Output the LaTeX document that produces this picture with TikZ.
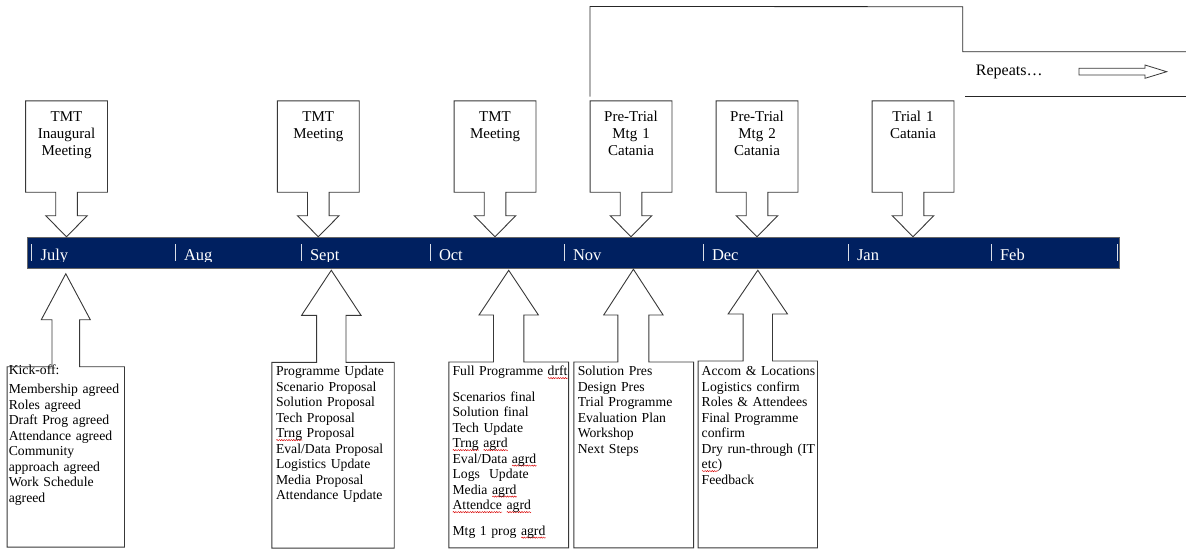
\documentclass[tikz,border=0pt]{standalone}
\usepackage{fontspec}
\setmainfont{Liberation Serif}
\usetikzlibrary{calc,decorations.pathmorphing}
\definecolor{barblue}{RGB}{0,32,96}

% red wavy underline under a word
\newlength\spellw
\newcommand\spell[1]{\settowidth\spellw{#1}\leavevmode\rlap{\smash{\tikz[baseline=0pt]\draw[red!85!black,line width=0.45pt,decorate,decoration={snake,amplitude=0.6pt,segment length=2.4pt}] (0pt,-2.6pt) -- (\spellw,-2.6pt);}}#1}

% box with a downward arrow onto the time bar
\newcommand\topcallout[3]{%
  \node[callbox,minimum width=81.5pt,minimum height=91pt] (#1) at (#2,146.5) {};
  \draw[outline] (#1.north west) -- (#1.north east) -- (#1.south east)
    -- ($(#1.south)+(10.8,0)$) -- ($(#1.south)+(10.8,23.5)$) -- ($(#1.south)+(20.8,23.5)$)
    -- (#1.south |- bar.north)
    -- ($(#1.south)+(-20.8,23.5)$) -- ($(#1.south)+(-10.8,23.5)$) -- ($(#1.south)+(-10.8,0)$)
    -- (#1.south west) -- cycle;
  \node[toptext] (#1text) at ($(#1.north)+(0,20.7)$) {#3};
}

% box with an upward arrow pointing at the time bar
% name, centre x, top y, width, height, arrow offset, stem half width, head half width, gap below bar
\newcommand\botcallout[9]{%
  \node[callbox,minimum width=#4pt,minimum height=#5pt,anchor=north] (#1) at (#2,#3) {};
  \coordinate (#1tip) at ($(#1.north)+(#6,0)$);
  \draw[outline] (#1.north west) -- ($(#1tip)+(-#7,0)$) -- ($(#1tip)+(-#7,-47)$) -- ($(#1tip)+(-#8,-47)$)
    -- ($(#1tip |- bar.south)+(0,#9)$)
    -- ($(#1tip)+(#8,-47)$) -- ($(#1tip)+(#7,-47)$) -- ($(#1tip)+(#7,0)$)
    -- (#1.north east) -- (#1.south east) -- (#1.south west) -- cycle;
}

\begin{document}
\begin{tikzpicture}[x=1pt,y=-1pt,
  outline/.style={draw=black!78,line width=0.9pt,fill=white,line join=miter},
  callbox/.style={draw=none,inner sep=0,rectangle},
  toptext/.style={font=\fontsize{15}{17}\selectfont,text width=78pt,align=center,anchor=base,inner sep=0},
  bottext/.style={font=\fontsize{13.7}{15.5}\selectfont,text width=118pt,align=left,anchor=base west,inner sep=0},
  month/.style={font=\fontsize{16.5}{18}\selectfont,text=white,anchor=base west,inner sep=0},
  monthtick/.style={draw=white!85!barblue,line width=0.9pt},
  rule/.style={draw=black!85,line width=0.8pt}]

\useasboundingbox (0,0) rectangle (1186,549);

% time bar with month ticks and names
\node[fill=barblue,draw=black!60,line width=0.5pt,minimum width=1092.5pt,minimum height=31pt,inner sep=0] (bar) at (573,252.5) {};
\begin{scope}
  \clip (bar.north west) rectangle ($(bar.east)+(0,9)$);
  \foreach \x/\m [count=\i] in {31.7/July,175/Aug,301/Sept,430/Oct,564/Nov,703/Dec,848/Jan,991/Feb}{
    \draw[monthtick] (\x,244) -- (\x,261);
    \node[month] (mon\i) at (\x+8.8,260.2) {\m};
  }
  \draw[monthtick] (1117.3,244) -- (1117.3,261);
\end{scope}

% meetings above the bar
\topcallout{top1}{66.5}{TMT\\Inaugural\\Meeting}
\topcallout{top2}{318.3}{TMT\\Meeting}
\topcallout{top3}{495}{TMT\\Meeting}
\topcallout{top4}{631}{Pre-Trial\\Mtg 1\\Catania}
\topcallout{top5}{757}{Pre-Trial\\Mtg 2\\Catania}
\topcallout{top6}{913}{Trial 1\\Catania}

% agenda boxes below the bar
\botcallout{low1}{65.8}{366.7}{117}{180}{0}{13.8}{24.5}{5.5}
\botcallout{low2}{333}{362.3}{122}{185.4}{-1.7}{14.7}{29.7}{2}
\botcallout{low3}{508.7}{362}{119.3}{185.5}{0}{15.2}{29.7}{2}
\botcallout{low4}{633.7}{362}{119.3}{185.5}{-0.3}{15.5}{29.7}{1}
\botcallout{low5}{757.8}{361}{119}{186.5}{0}{14.7}{29.7}{2}

\node[bottext] (low1text) at ($(low1.north west)+(1.5,8.1)$)
  {Kick-off:\\[3.5pt]Membership agreed\\Roles agreed\\Draft Prog agreed\\Attendance agreed\\Community\\approach agreed\\Work Schedule\\agreed};
\node[bottext] (low2text) at ($(low2.north west)+(4,13.2)$)
  {Programme Update\\Scenario Proposal\\Solution Proposal\\Tech Proposal\\\spell{Trng} Proposal\\Eval/Data Proposal\\Logistics Update\\Media Proposal\\Attendance Update};
\node[bottext] (low3text) at ($(low3.north west)+(3.5,13.5)$)
  {Full Programme \spell{drft}\\[10pt]Scenarios final\\Solution final\\Tech Update\\\spell{Trng} \spell{agrd}\\Eval/Data \spell{agrd}\\Logs~ Update\\Media \spell{agrd}\\\spell{Attendce} \spell{agrd}\\[10pt]Mtg 1 prog \spell{agrd}};
\node[bottext] (low4text) at ($(low4.north west)+(3.7,13.5)$)
  {Solution Pres\\Design Pres\\Trial Programme\\Evaluation Plan\\Workshop\\Next Steps};
\node[bottext] (low5text) at ($(low5.north west)+(3.4,14.5)$)
  {Accom \& Locations\\Logistics confirm\\Roles \& Attendees\\Final Programme\\confirm\\Dry run-through (IT\\\spell{etc})\\Feedback};

% bracket over the trial period and the repeat note
\draw[rule] ([yshift=4.3pt]top4.north west) -- ++(0,-90) -- (962.7,6.7) -- (962.7,51.7) -- (1186,51.7);
\draw[rule] (965,96) -- (1186,96);
\node[font=\fontsize{16}{18}\selectfont,anchor=base west,inner sep=0] (repeats) at (975.7,75.3) {Repeats…};
\draw[outline,line width=0.8pt] (1079,68.3) -- (1145,68.3) -- (1145,65) -- (1166.7,71.7) -- (1145,78.3) -- (1145,75) -- (1079,75) -- cycle;

\end{tikzpicture}
\end{document}
